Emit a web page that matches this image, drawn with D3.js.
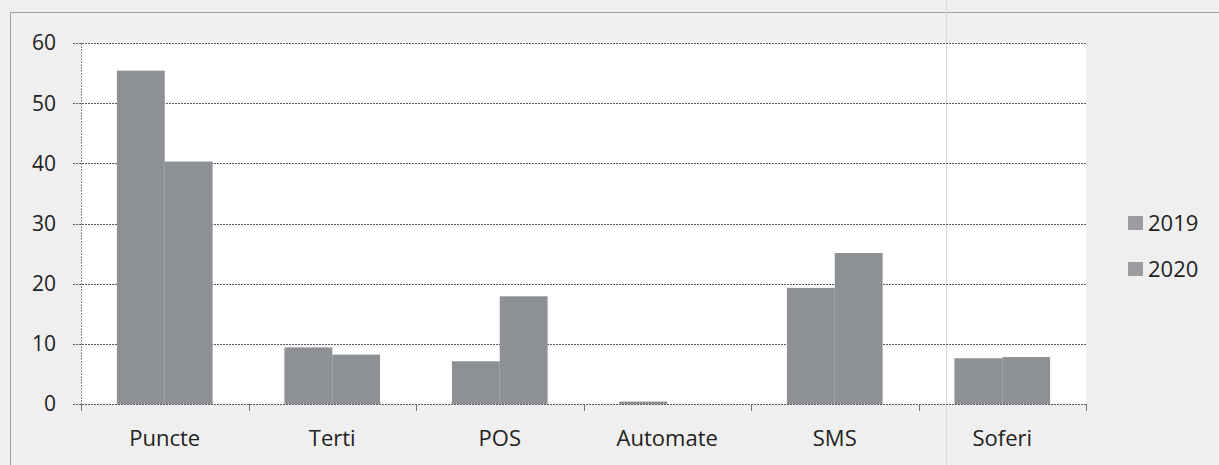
<!DOCTYPE html>
<html>
<head>
<meta charset="utf-8">
<script src="https://cdn.jsdelivr.net/npm/d3@7"></script>
<style>
  body { margin: 0; background: #efefef; }
  svg { display: block; font-family: "Open Sans", sans-serif; }
</style>
</head>
<body>
<svg width="1219" height="465"></svg>
<script>
const categories = ["Puncte", "Terti", "POS", "Automate", "SMS", "Soferi"];
const seriesNames = ["2019", "2020"];
const values2019 = [55.4, 9.4, 7.1, 0.4, 19.3, 7.6];
const values2020 = [40.3, 8.2, 17.9, 0, 25.1, 7.8];
const yTicks = [0, 10, 20, 30, 40, 50, 60];

const svg = d3.select("svg");
const width = +svg.attr("width");
const height = +svg.attr("height");

const plot = { left: 81, right: 1086, top: 43, bottom: 404 };

const x0 = d3.scaleBand()
  .domain(categories)
  .range([plot.left, plot.right])
  .padding(0);

const x1 = d3.scaleBand()
  .domain(seriesNames)
  .range([0, x0.bandwidth()])
  .paddingInner(0)
  .paddingOuter(0.75);

const y = d3.scaleLinear()
  .domain([0, 60])
  .range([plot.bottom, plot.top]);

const data = categories.map((c, i) => ({
  category: c,
  values: [
    { series: "2019", value: values2019[i] },
    { series: "2020", value: values2020[i] }
  ]
}));

// page background / frame
svg.append("rect")
  .attr("width", width)
  .attr("height", height)
  .attr("fill", "#efefef");

svg.append("path")
  .attr("d", `M10.5,${height} V12.5 H${width}`)
  .attr("fill", "none")
  .attr("stroke", "#a0a0a0")
  .attr("stroke-width", 1);

// plot area
svg.append("rect")
  .attr("x", plot.left)
  .attr("y", plot.top)
  .attr("width", plot.right - plot.left)
  .attr("height", plot.bottom - plot.top)
  .attr("fill", "#ffffff");

// scan fold line
svg.append("line")
  .attr("x1", 946.5)
  .attr("x2", 946.5)
  .attr("y1", 0)
  .attr("y2", height)
  .attr("stroke", "#d6d9de")
  .attr("stroke-width", 1);

// gridlines + y ticks
svg.append("g")
  .selectAll("line")
  .data(yTicks)
  .join("line")
  .attr("x1", plot.left - 8)
  .attr("x2", plot.right)
  .attr("y1", d => Math.round(y(d)) + 0.5)
  .attr("y2", d => Math.round(y(d)) + 0.5)
  .attr("stroke", "#5a5a5a")
  .attr("stroke-width", 1)
  .attr("stroke-dasharray", "2,1");

// y axis line
svg.append("line")
  .attr("x1", plot.left + 0.5)
  .attr("x2", plot.left + 0.5)
  .attr("y1", plot.top)
  .attr("y2", plot.bottom + 6)
  .attr("stroke", "#8a8a8a")
  .attr("stroke-dasharray", "2,1");

// x ticks at category boundaries
const boundaries = categories.map(c => x0(c)).concat([plot.right]);
svg.append("g")
  .selectAll("line")
  .data(boundaries)
  .join("line")
  .attr("x1", d => Math.round(d) + 0.5)
  .attr("x2", d => Math.round(d) + 0.5)
  .attr("y1", plot.bottom)
  .attr("y2", plot.bottom + 7)
  .attr("stroke", "#7a7a7a");

// y labels
svg.append("g")
  .selectAll("text")
  .data(yTicks)
  .join("text")
  .attr("x", 56)
  .attr("y", d => y(d))
  .attr("dy", "0.35em")
  .attr("text-anchor", "end")
  .attr("font-size", 21)
  .attr("fill", "#222")
  .text(d => d);

// bars
const groups = svg.append("g")
  .selectAll("g")
  .data(data)
  .join("g")
  .attr("transform", d => `translate(${x0(d.category)},0)`);

groups.selectAll("rect")
  .data(d => d.values)
  .join("rect")
  .attr("x", d => x1(d.series))
  .attr("y", d => y(d.value))
  .attr("width", x1.bandwidth())
  .attr("height", d => y(0) - y(d.value))
  .attr("fill", "#8d9094");

// category labels
svg.append("g")
  .selectAll("text")
  .data(categories)
  .join("text")
  .attr("x", d => x0(d) + x0.bandwidth() / 2)
  .attr("y", 446)
  .attr("text-anchor", "middle")
  .attr("font-size", 22)
  .attr("fill", "#222")
  .text(d => d);

// legend
const legend = svg.append("g")
  .attr("transform", "translate(1128, 223)");

const legendItems = legend.selectAll("g")
  .data(seriesNames)
  .join("g")
  .attr("transform", (d, i) => `translate(0, ${i * 46})`);

legendItems.append("rect")
  .attr("y", -7)
  .attr("width", 15)
  .attr("height", 14)
  .attr("fill", "#9a9ca0");

legendItems.append("text")
  .attr("x", 20)
  .attr("y", 0)
  .attr("dy", "0.35em")
  .attr("font-size", 22)
  .attr("fill", "#222")
  .text(d => d);
</script>
</body>
</html>
